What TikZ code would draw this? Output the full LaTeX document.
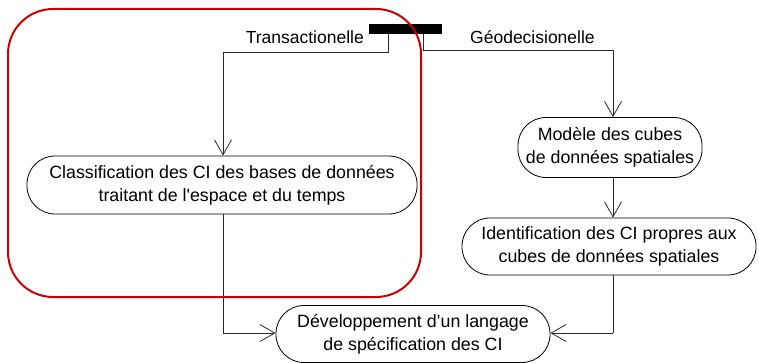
\documentclass[tikz,border=0pt]{standalone}
\usepackage{fontspec}
\setmainfont{Liberation Sans}
\usetikzlibrary{arrows.meta}
\definecolor{frame}{RGB}{204,0,0}
\definecolor{wire}{RGB}{40,40,40}
\tikzset{
  activity/.style={draw=black, line width=0.8pt, rounded corners=28pt, align=center,
    inner sep=0pt, font=\fontsize{17.8}{23}\selectfont},
  flow/.style={draw=wire, line width=0.8pt, -{Straight Barb[length=15pt,width=17pt,line width=0.8pt]}},
  plain/.style={draw=wire, line width=0.8pt},
  guard/.style={font=\fontsize{17.5}{21}\selectfont, inner sep=0pt},
}
\begin{document}
\begin{tikzpicture}[x=1pt,y=-1pt]
\useasboundingbox (0,0) rectangle (759,363);

% fork bar
\node (fork) [fill=black, minimum width=73pt, minimum height=10pt, inner sep=0pt] at (405.5,29) {};

% activities
\node (classif) [activity, minimum width=390pt, minimum height=58pt] at (222,185)
  {Classification des CI des bases de données\\traitant de l\textquotesingle espace et du temps};
\node (modele) [activity, minimum width=184pt, minimum height=60pt] at (610,147.5)
  {Modèle des cubes\\de données spatiales};
\node (ident) [activity, minimum width=294pt, minimum height=57pt] at (609,246.5)
  {Identification des CI propres aux\\cubes de données spatiales};
\node (dev) [activity, minimum width=274pt, minimum height=57pt] at (413,334)
  {Développement d’un langage\\de spécification des CI};

% guards
\node (ltxt) [guard, anchor=base east] at (364,44) {Transactionelle};
\node (rtxt) [guard, anchor=base west] at (470,44) {Géodecisionelle};

% bend points
\coordinate (l1) at (388,52);
\coordinate (l2) at (223,52);
\coordinate (r1) at (423,50);
\coordinate (r2) at (613,50);
\coordinate (b1) at (223,333);
\coordinate (b2) at (613,333);

% branch connectors
\draw[plain] (fork.south -| l1) -- (l1) -- (l2);
\draw[flow] (l2) -- (l2 |- classif.north);
\draw[plain] (fork.south -| r1) -- (r1) -- (r2);
\draw[flow] (r2) -- (r2 |- modele.north);
\draw[flow] (r2 |- modele.south) -- (r2 |- ident.north);

% merge connectors
\draw[plain] (l2 |- classif.south) -- (b1);
\draw[flow] (b1) -- (b1 -| dev.west);
\draw[plain] (r2 |- ident.south) -- (b2);
\draw[flow] (b2) -- (b2 -| dev.east);

% highlight frame
\draw[frame, line width=2pt, rounded corners=45pt] (8,9) rectangle (421,297);
\end{tikzpicture}
\end{document}
